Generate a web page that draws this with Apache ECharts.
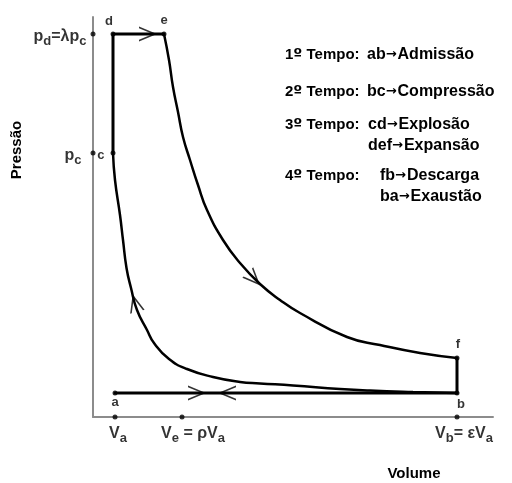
<!DOCTYPE html>
<html><head><meta charset="utf-8">
<script src="https://cdn.jsdelivr.net/npm/echarts@6/dist/echarts.min.js"></script>
<style>html,body{margin:0;padding:0;background:#fff}#c{width:512px;height:483px}</style>
</head><body><div id="c"></div>
<script>
// ---- data (V in arbitrary volume units, p in arbitrary pressure units) ----
const compressionCurve = [[1.0,6.6],[1.1,5.925],[1.35,5.05],[1.5,4.425],[1.675,3.725],[1.9,3.225],[2.2,2.675],[2.7,2.175],[3.05,1.85],[3.8,1.45],[4.7,1.2],[6.0,1.0],[7.35,0.875],[8.35,0.84],[10.0,0.79],[12.35,0.7],[13.85,0.66],[16.0,0.625],[18.2,0.6]];
const expansionCurve = [[3.55,9.575],[3.8,8.925],[4.0,8.25],[4.25,7.625],[4.5,7.0],[4.85,6.425],[5.25,5.8],[5.7,5.175],[6.5,4.425],[7.35,3.85],[8.35,3.325],[9.35,2.925],[10.35,2.6],[12.7,2.0],[14.35,1.8],[16.35,1.6],[18.2,1.475]];
const stateNames = ['a','b','c','d','e','f'];
const stateV = [1.1, 18.2, 1.0, 1.0, 3.55, 18.2];
const stateP = [0.6, 0.6, 6.6, 9.575, 9.575, 1.475];
const pressureTickNames = ['pd','pc'];
const pressureTickValues = [9.575, 6.6];
const volumeTickNames = ['Va','Ve','Vb'];
const volumeTickValues = [1.1, 4.45, 18.2];
const tickLabels = {pd:'{m|p}{s|d}{m|=λp}{s|c}', pc:'{m|p}{s|c}', Va:'{m|V}{s|a}', Ve:'{m|V}{s|e}{m| = ρV}{s|a}', Vb:'{m|V}{s|b}{m|= εV}{s|a}'};
// arrows: position on a path, and two path points giving its direction
const arrowAt = [[2.75,9.575],[2.1,2.85],[8.05,3.45],[5.2,0.6],[6.7,0.6]];
const arrowFrom = [[2.0,9.575],[2.2,2.675],[7.35,3.85],[4.8,0.6],[7.1,0.6]];
const arrowTo = [[3.0,9.575],[1.9,3.225],[8.35,3.325],[5.6,0.6],[6.3,0.6]];
const strokeNames = ['1º Tempo:','2º Tempo:','3º Tempo:','4º Tempo:'];
const strokeTexts = [['ab→Admissão'],['bc→Compressão'],['cd→Explosão','def→Expansão'],['fb→Descarga','ba→Exaustão']];
const xName = 'Volume', yName = 'Pressão';

// ---- chart ----
const FONT = '"Liberation Sans", Arial, sans-serif';
const chart = echarts.init(document.getElementById('c'));
const chevron = 'path://M0,0 L20,7.5 L0,15 L0,13.3 L15.4,7.5 L0,1.7 Z';
const pt = (i) => [stateV[i], stateP[i]];
function seg(data, width, smooth) {
  return {type:'line', data, symbol:'none', smooth: smooth || false, silent:true, z:3,
    lineStyle:{color:'#000', width, cap:'round', join:'round'}};
}
const rich = {
  m:{fontSize:16, fontFamily:FONT, fontWeight:'bold', color:'#000'},
  s:{fontSize:13, fontFamily:FONT, fontWeight:'bold', color:'#000', padding:[9,0,0,0]}
};
const stateLabel = {
  a:{position:'bottom', distance:0, offset:[0,0]},
  b:{position:'bottom', distance:2, offset:[4,0]},
  c:{position:'left', distance:6, offset:[0,2]},
  d:{position:'top', distance:4, offset:[-4,0]},
  e:{position:'top', distance:5, offset:[0,0]},
  f:{position:'top', distance:5, offset:[1,0]}
};
const tickLabelPos = {
  pd:{position:'left', distance:4, offset:[0,3]},
  pc:{position:'left', distance:9, offset:[0,3]},
  Va:{position:'bottom', distance:3, offset:[3,0]},
  Ve:{position:'bottom', distance:3, offset:[11,0]},
  Vb:{position:'bottom', distance:3, offset:[7,0]}
};
const ticks = pressureTickNames.map((n,i)=>({name:n, value:[0, pressureTickValues[i]]}))
  .concat(volumeTickNames.map((n,i)=>({name:n, value:[volumeTickValues[i], 0]})));

const textRich = {
  o:{fontFamily:'DejaVu Sans', fontWeight:'bold', fontSize:16, fill:'#000'},
  a:{fontFamily:'DejaVu Sans', fontWeight:'bold', fontSize:13, fill:'#000', padding:[0,1,0,0]}
};
const markup = (s) => s.replace('º','{o|º}').replace('→','{a|→}');
const graphics = [];
const rowY = [55, 92, 125, 176];
const col2X = [367, 367, 368, 380];
strokeNames.forEach((n,i)=>{
  graphics.push({type:'text', x:285, y:rowY[i], style:{text:markup(n), font:'bold 15px '+FONT, fill:'#000', verticalAlign:'middle', rich:textRich}});
  strokeTexts[i].forEach((t,j)=>{
    graphics.push({type:'text', x:col2X[i], y:rowY[i]+j*21, style:{text:markup(t), font:'bold 16px '+FONT, fill:'#000', verticalAlign:'middle', rich:textRich}});
  });
});
graphics.push({type:'text', x:414, y:474, style:{text:xName, font:'bold 15px '+FONT, fill:'#000', align:'center', verticalAlign:'middle'}});
graphics.push({type:'text', x:17, y:150, rotation:Math.PI/2, style:{text:yName, font:'bold 15px '+FONT, fill:'#000', align:'center', verticalAlign:'middle'}});

const axisCommon = {type:'value', axisTick:{show:false}, axisLabel:{show:false}, splitLine:{show:false},
  axisLine:{show:true, onZero:false, lineStyle:{color:'#8c8c8c', width:2}}};

const option = {
  animation:false,
  backgroundColor:'#fff',
  grid:{left:93, right:19, top:17, bottom:66, containLabel:false},
  xAxis:Object.assign({min:0, max:20}, axisCommon),
  yAxis:Object.assign({min:0, max:10}, axisCommon),
  graphic:graphics,
  series:[
    seg([pt(2), pt(3)], 3),            // c -> d
    seg([pt(3), pt(4)], 3),            // d -> e
    seg(expansionCurve, 2.5, 0.5),     // e -> f
    seg([pt(5), pt(1)], 3),            // f -> b
    seg([pt(0), pt(1)], 3),            // a <-> b
    seg(compressionCurve, 2.5, 0.5),   // b -> c
    {type:'scatter', z:5, silent:true, symbol:'circle', symbolSize:5, itemStyle:{color:'#000'},
      data: stateNames.map((n,i)=>({name:n, value:pt(i), label:Object.assign({show:true, formatter:n,
        fontSize:13, fontWeight:'bold', fontFamily:FONT, color:'#000'}, stateLabel[n])}))},
    {type:'scatter', z:5, silent:true, symbol:'circle', symbolSize:5, itemStyle:{color:'#000'},
      data: ticks.map(t=>({name:t.name, value:t.value, label:Object.assign({show:true, formatter:tickLabels[t.name], rich}, tickLabelPos[t.name])}))},
    {type:'scatter', id:'arrows', z:6, silent:true, symbol:chevron, symbolSize:[18,15], itemStyle:{color:'#000'},
      data: arrowAt.map(a=>({value:a}))}
  ]
};
chart.setOption(option);
const arrowData = arrowAt.map((a,i)=>{
  const p0 = chart.convertToPixel({gridIndex:0}, arrowFrom[i]);
  const p1 = chart.convertToPixel({gridIndex:0}, arrowTo[i]);
  const rot = Math.atan2(-(p1[1]-p0[1]), p1[0]-p0[0]) * 180 / Math.PI;
  return {value:a, symbolRotate:rot};
});
chart.setOption({series:[{id:'arrows', data:arrowData}]});
</script>
</body></html>
